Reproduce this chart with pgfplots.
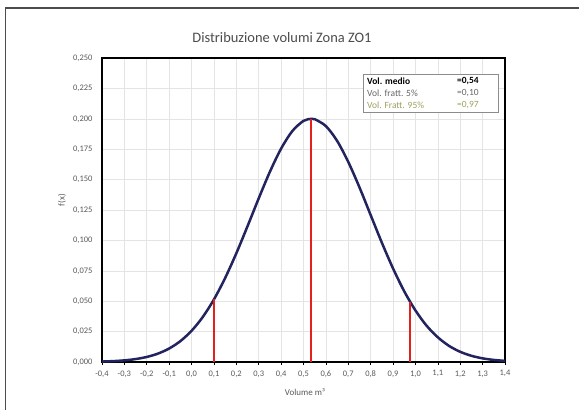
\documentclass[border=0pt]{standalone}
\usepackage{fontspec}
\setmainfont{Carlito}
\usepackage{pgfplots}
\pgfplotsset{compat=1.18}
\definecolor{curve}{HTML}{23235F}
\definecolor{redl}{HTML}{E3201B}
\definecolor{tickg}{HTML}{595959}
\definecolor{gridg}{HTML}{E4E4E4}
\definecolor{olive}{HTML}{A0A060}
\begin{document}
\begin{tikzpicture}[x=1bp,y=1bp]
\useasboundingbox (0,0) rectangle (579,410);
\fill[white] (0,0) rectangle (579,410);
\draw[line width=1.6bp,black!70] (5.5,0) -- (5.5,402) -- (579,402);
\begin{axis}[
  at={(102bp,48bp)}, anchor=south west,
  scale only axis, width=403bp, height=304bp,
  xmin=-0.4, xmax=1.4, ymin=0, ymax=0.25,
  xtick={-0.4,-0.3,...,1.41},
  ytick={0,0.025,...,0.251},
  grid=major,
  major grid style={gridg, line width=0.6bp},
  axis line style={black, line width=1.6bp},
  tick style={black, line width=0.6bp},
  xtick pos=bottom, ytick pos=left,
  tick align=outside,
  major tick length=3bp,
  ytick style={draw=none},
  tick label style={font=\fontsize{8.5}{9}\selectfont, text=tickg},
  /pgf/number format/assume math mode=true,
  xticklabel style={/pgf/number format/.cd, use comma, fixed, fixed zerofill, precision=1},
  yticklabel style={/pgf/number format/.cd, use comma, fixed, fixed zerofill, precision=3},
  xticklabel shift=2bp,
  yticklabel shift=3bp,
  scaled ticks=false,
  clip=false,
]
\addplot[curve, line width=2.5bp, smooth] coordinates {
(-0.40,0.00038) (-0.35,0.00073) (-0.30,0.00135) (-0.25,0.00241) (-0.20,0.00415)
(-0.15,0.00691) (-0.10,0.01109) (-0.05,0.01718) (0.00,0.02567) (0.05,0.03700)
(0.10,0.05148) (0.15,0.06908) (0.20,0.08942) (0.25,0.1117) (0.30,0.1346)
(0.35,0.1565) (0.40,0.1755) (0.45,0.1899) (0.50,0.1983) (0.535,0.2000)
(0.55,0.1997) (0.60,0.1940) (0.65,0.1819) (0.70,0.1645) (0.75,0.1436)
(0.80,0.1208) (0.85,0.0981) (0.90,0.0769) (0.95,0.0581) (1.00,0.0424)
(1.05,0.0298) (1.10,0.0203) (1.15,0.01326) (1.20,0.00838) (1.25,0.00511)
(1.30,0.00300) (1.35,0.00171) (1.40,0.00093)
};
\addplot[redl, line width=1.8bp] coordinates {(0.10,0) (0.10,0.0515)};
\addplot[redl, line width=1.8bp] coordinates {(0.535,0) (0.535,0.1995)};
\addplot[redl, line width=1.8bp] coordinates {(0.975,0) (0.975,0.0495)};
\end{axis}
% legend box
\draw[black!45, line width=0.8bp, fill=white] (363,298) rectangle (498,336);
\node[anchor=west, inner sep=0pt, font=\fontsize{9.5}{10}\selectfont\bfseries, text=black] at (367,328.5) {Vol. medio};
\node[anchor=west, inner sep=0pt, font=\fontsize{9.5}{10}\selectfont\bfseries, text=black] at (457,328.5) {=0,54};
\node[anchor=west, inner sep=0pt, font=\fontsize{9.5}{10}\selectfont, text=black!60] at (367,316.5) {Vol. fratt. 5\%};
\node[anchor=west, inner sep=0pt, font=\fontsize{9.5}{10}\selectfont, text=black!60] at (457,316.5) {=0,10};
\node[anchor=west, inner sep=0pt, font=\fontsize{9.5}{10}\selectfont, text=olive] at (367,304.5) {Vol. Fratt. 95\%};
\node[anchor=west, inner sep=0pt, font=\fontsize{9.5}{10}\selectfont, text=olive] at (457,304.5) {=0,97};
% title and labels
\node[font=\fontsize{14.5}{16}\selectfont, text=black!70] at (282,372) {Distribuzione volumi Zona ZO1};
\node[font=\fontsize{9}{10}\selectfont, text=tickg, rotate=90] at (62,210) {f(x)};
\node[font=\fontsize{9}{10}\selectfont, text=tickg] at (305,18) {Volume m³};
\end{tikzpicture}
\end{document}
